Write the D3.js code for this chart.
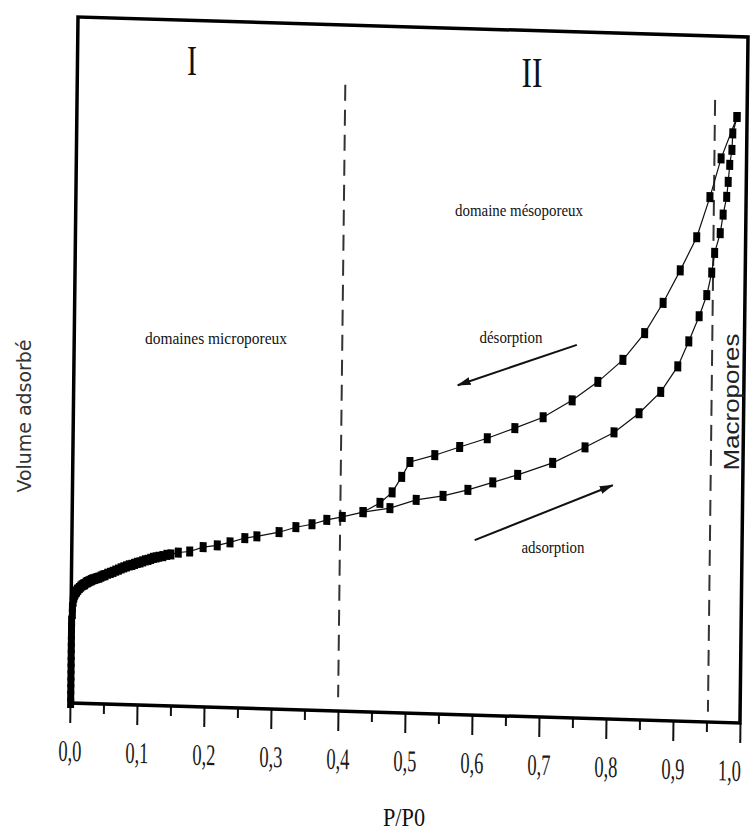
<!DOCTYPE html>
<html><head><meta charset="utf-8">
<script src="https://cdn.jsdelivr.net/npm/d3@7"></script>
<style>body{margin:0;background:#fff}</style>
</head><body>
<svg id="c" width="752" height="830"></svg>
<script>
// ---------- data ----------
const majorTicks = [0,0.1,0.2,0.3,0.4,0.5,0.6,0.7,0.8,0.9,1.0];
const tickLabels = ["0,0","0,1","0,2","0,3","0,4","0,5","0,6","0,7","0,8","0,9","1,0"];
const minorTicks = [0.05,0.15,0.25,0.35,0.45,0.55,0.65,0.75,0.85,0.95];

// adsorption branch (P/P0, volume adsorbed, arbitrary units)
const adsP = [0.001,0.001,0.001,0.001,0.001,0.001,0.001,0.001,0.001,0.001,0.001,0.001,0.001,0.002,0.002,
  0.003,0.004,0.005,0.006,0.007,0.008,0.009,0.010,0.012,0.014,0.016,0.018,0.020,0.022,0.024,0.026,0.028,0.030,
  0.032,0.035,0.038,0.041,0.044,0.047,0.050,0.054,0.058,0.062,0.066,0.070,0.074,0.078,0.082,0.086,0.090,0.094,
  0.098,0.102,0.106,0.110,0.114,0.118,0.122,0.126,0.130,0.136,0.142,0.148,0.159,0.176,0.196,0.217,0.236,0.258,
  0.276,0.309,0.334,0.358,0.380,0.403,0.434,0.474,0.513,0.553,0.590,0.627,0.664,0.716,0.764,0.807,0.844,0.876,
  0.901,0.917,0.932,0.943,0.950,0.954,0.962,0.966,0.971,0.973,0.975,0.978,0.979,0.985];
const adsV = [0.0,1.0,2.0,3.0,4.0,5.0,6.0,7.0,8.0,9.0,10.0,11.0,12.0,13.0,14.0,
  14.8,15.4,15.8,16.0,16.2,16.3,16.5,16.6,16.8,17.0,17.2,17.3,17.4,17.6,17.7,17.8,17.9,18.0,
  18.1,18.2,18.3,18.4,18.55,18.7,18.8,19.0,19.15,19.3,19.5,19.65,19.85,20.0,20.15,20.3,20.4,20.55,
  20.7,20.8,20.95,21.1,21.2,21.35,21.5,21.6,21.7,21.8,22.0,22.1,22.4,22.6,23.3,23.6,24.1,24.8,
  25.1,25.8,26.6,27.1,27.8,28.3,29.1,29.8,31.1,31.8,32.8,34.0,35.2,37.1,39.5,41.8,44.7,47.9,
  51.7,55.4,59.1,62.2,65.5,68.4,71.3,74.0,76.6,78.8,81.3,83.5,85.9,88.3];

// desorption branch
const desP = [0.985,0.962,0.946,0.927,0.903,0.878,0.851,0.819,0.782,0.744,0.701,0.659,0.618,0.577,0.540,0.503,0.491,0.477,0.459,0.434];
const desV = [88.3,82.2,76.5,70.6,65.7,60.9,56.4,52.4,49.1,46.3,43.7,42.0,40.4,39.0,37.7,36.6,34.4,32.1,30.5,29.1];

// region dividers: x position, top value, bottom value
const dividerX = [0.400, 0.952];
const dividerTop = [91.3, 90.7];
const dividerBottom = [2.0, 1.5];

// arrows [x1,y1,x2,y2] (head at end)
const arrowDes = [0.750, 54.4, 0.573, 48.0];
const arrowAds = [0.601, 25.5, 0.806, 34.1];

// ---------- layout ----------
const W = 670, H = 686;
const svg = d3.select("#c");
const x = d3.scaleLinear().domain([0,1]).range([0,W]);
const y = d3.scaleLinear().domain([0,100]).range([H,0]);

// scanned figure is slightly skewed: affine transform of plot group
const g = svg.append("g").attr("transform","matrix(1,0.0299,-0.0117,1,78,17)");

const defs = svg.append("defs");
defs.append("marker").attr("id","ah").attr("viewBox","0 0 14 10")
  .attr("refX",13).attr("refY",5).attr("markerWidth",14).attr("markerHeight",10)
  .attr("markerUnits","userSpaceOnUse").attr("orient","auto")
  .append("path").attr("d","M0,1 L14,5 L0,9 Z").attr("fill","#111");

// axes (ticks)
const axMinor = d3.axisBottom(x).tickValues(minorTicks).tickSize(10).tickFormat("");
const axMajor = d3.axisBottom(x).tickValues(majorTicks).tickSize(20)
  .tickFormat((d,i)=>tickLabels[i]);
const gMin = g.append("g").attr("transform",`translate(0,${H})`).call(axMinor);
const gMaj = g.append("g").attr("transform",`translate(0,${H})`).call(axMajor);
[gMin,gMaj].forEach(a=>{a.select(".domain").remove();
  a.selectAll(".tick line").attr("stroke","#111").attr("stroke-width",2);});
gMaj.selectAll(".tick text")
  .attr("y",58).attr("dy",0)
  .attr("x",d=>d===1?-17:0)
  .attr("transform","scale(0.62,1)")
  .attr("font-family","'Liberation Serif','DejaVu Serif',serif")
  .attr("font-size",30).attr("fill","#1a1a1a");

// frame
g.append("rect").attr("x",0).attr("y",0).attr("width",W).attr("height",H)
  .attr("fill","none").attr("stroke","#000").attr("stroke-width",3.5);

// dividers
dividerX.forEach((dx,i)=>{
  g.append("line").attr("x1",x(dx)).attr("x2",x(dx))
   .attr("y1",y(dividerTop[i])).attr("y2",y(dividerBottom[i]))
   .attr("stroke","#333").attr("stroke-width",2).attr("stroke-dasharray","16,9");
});

// curves
const line = d3.line().x(d=>x(d[0])).y(d=>y(d[1]));
const ads = adsP.map((p,i)=>[p,adsV[i]]);
const des = desP.map((p,i)=>[p,desV[i]]);
[ads,des].forEach(data=>{
  g.append("path").datum(data).attr("d",line)
   .attr("fill","none").attr("stroke","#111").attr("stroke-width",1.2);
});
[ads,des].forEach(data=>{
  g.append("g").selectAll("rect").data(data).join("rect")
   .attr("x",d=>x(d[0])-3.5).attr("y",d=>y(d[1])-5)
   .attr("width",7).attr("height",10).attr("fill","#000");
});

// arrows
[arrowDes,arrowAds].forEach(a=>{
  g.append("line").attr("x1",x(a[0])).attr("y1",y(a[1]))
   .attr("x2",x(a[2])).attr("y2",y(a[3]))
   .attr("stroke","#111").attr("stroke-width",2).attr("marker-end","url(#ah)");
});

// ---------- text annotations (screen coords) ----------
const serif = "'Liberation Serif','DejaVu Serif',serif";
function txt(s, cx, by, size, len){
  return svg.append("text").attr("x",cx).attr("y",by).attr("text-anchor","middle")
    .attr("font-family",serif).attr("font-size",size).attr("fill","#111")
    .attr("textLength",len).attr("lengthAdjust","spacingAndGlyphs").text(s);
}
txt("I",192,75,42,10);
txt("II",532,87,42,21);
txt("domaines microporeux",216,344,17,142);
txt("domaine mésoporeux",519,216,17,128);
txt("désorption",511,343,17,63);
txt("adsorption",553,553,17,63);
txt("P/P0",404,826,25,42);
svg.append("text").attr("transform","translate(31,416) rotate(-90)")
  .attr("text-anchor","middle").attr("font-family","'DejaVu Sans',sans-serif")
  .attr("font-size",19).attr("fill","#333")
  .attr("textLength",153).attr("lengthAdjust","spacingAndGlyphs").text("Volume adsorbé");
svg.append("text").attr("transform","translate(739,402) rotate(-90)")
  .attr("text-anchor","middle").attr("font-family","'Liberation Sans',Arial,sans-serif")
  .attr("font-size",22).attr("fill","#222")
  .attr("textLength",137).attr("lengthAdjust","spacingAndGlyphs").text("Macropores");
</script>
</body></html>
